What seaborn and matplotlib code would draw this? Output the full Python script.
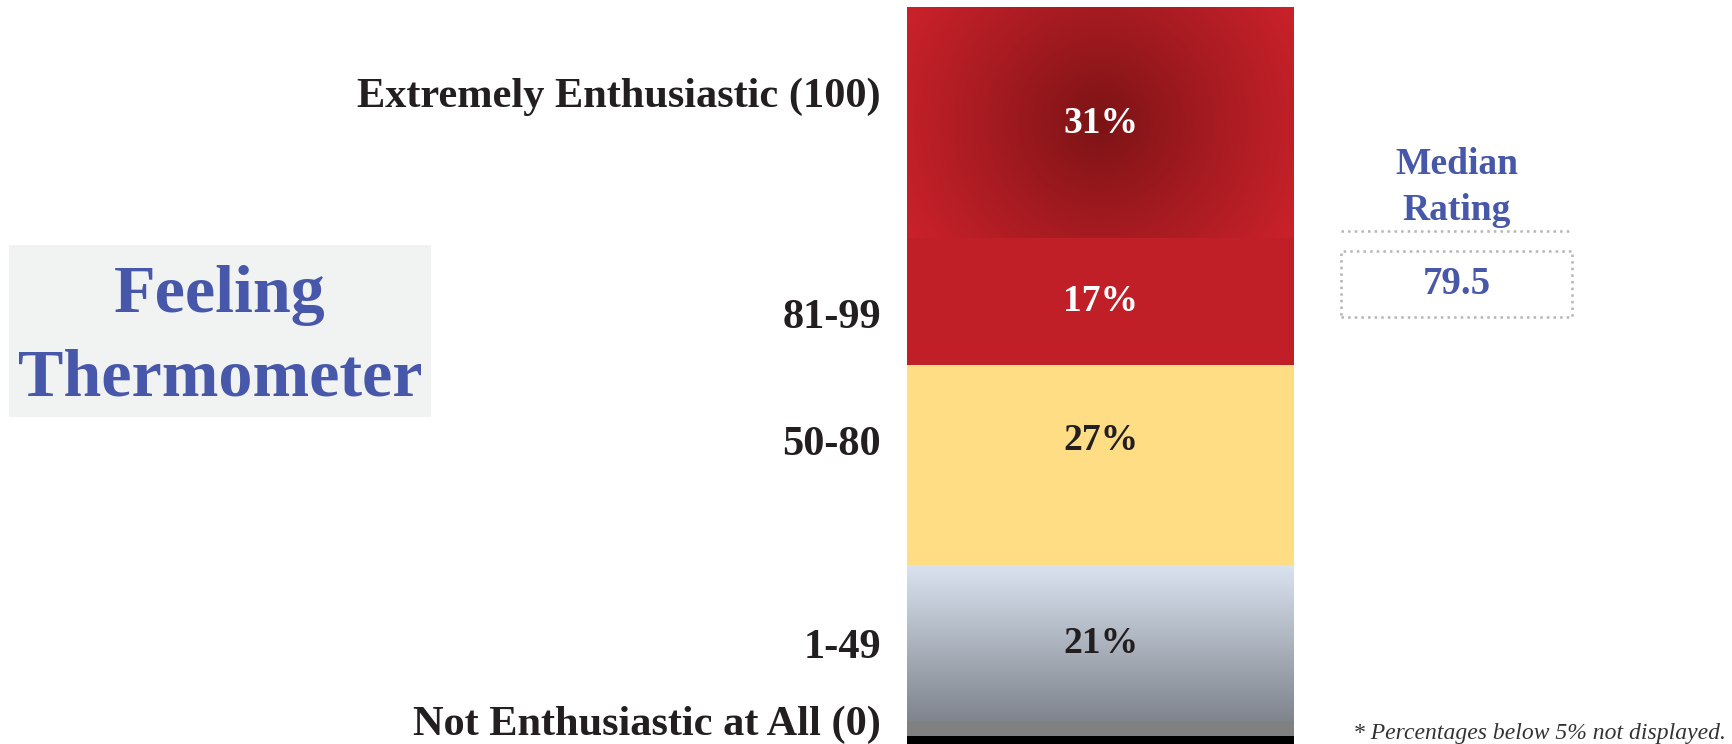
import numpy as np
import pandas as pd
import matplotlib.pyplot as plt
from matplotlib.colors import to_rgb
from matplotlib.patches import Rectangle
from matplotlib.lines import Line2D
import seaborn as sns

# data (bottom of the bar first)
segments = ['Rest', 'Not Enthusiastic at All (0)', '1-49', '50-80', '81-99', 'Extremely Enthusiastic (100)']
pct = [2, 2, 21, 27, 17, 31]
seg_colors = ['#000000', '#808080', '#d9e3ef', '#fedd84', '#c01f27', '#c8212a']
tick_labels = ['Not Enthusiastic at All (0)', '1-49', '50-80', '81-99', 'Extremely Enthusiastic (100)']
median_rating = 79.5

# layout (value units of the bar axis)
tick_y = [4.15, 14.4, 41.8, 58.9, 88.7]
pct_nudge = [0, 0, 0, 3.3, 0, 0]

sns.set_style('white')
plt.rcParams['font.family'] = ['Liberation Serif', 'DejaVu Serif']

df = pd.DataFrame({'segment': segments, 'pct': pct, 'color': seg_colors})
df['top'] = df['pct'].cumsum()
df['bottom'] = df['top'] - df['pct']

W, H = 1733, 744
fig = plt.figure(figsize=(W / 100, H / 100), dpi=100)
ax = fig.add_axes([907 / W, 0, (1294 - 907) / W, 1])

# stacked bar: draw cumulative totals, tallest first
for i in range(len(df) - 1, -1, -1):
    sns.barplot(x=['bar'], y=[df['top'][i]], color=df['color'][i], saturation=1,
                width=0.8, linewidth=0, ax=ax)

# gradients
px_per = (736 - 8) / (df['top'].iloc[-1] - df['pct'].iloc[0])
top = df.iloc[-1]
ny, nx = 240, 390
yy, xx = np.mgrid[0:1:ny * 1j, 0:1:nx * 1j]
d = np.hypot((xx - 0.5) * 387, (yy - 0.5) * top['pct'] * px_per)
t = np.clip(d / 215, 0, 1) ** 0.9
c0, c1 = np.array(to_rgb('#7a1315')), np.array(to_rgb('#c8212a'))
ax.imshow(c0 + (c1 - c0) * t[..., None], extent=(-0.4, 0.4, top['bottom'], top['top']),
          aspect='auto', zorder=3, interpolation='bilinear')

low = df.iloc[2]
tv = np.linspace(0, 1, 200)[:, None, None] * np.ones((1, 2, 1))
g0, g1 = np.array(to_rgb('#d9e3ef')), np.array(to_rgb('#7f848d'))
ax.imshow(g0 + (g1 - g0) * tv, extent=(-0.4, 0.4, low['bottom'], low['top']),
          aspect='auto', zorder=3, interpolation='bilinear')

ax.set_xlim(-0.4, 0.4)
ax.set_ylim(df['pct'].iloc[0] - (744 - 736) / px_per, df['top'].iloc[-1] + 8 / px_per)

# percentage labels (below 5% not shown)
for i, row in df.iterrows():
    if row['pct'] < 5:
        continue
    txt_color = 'white' if i >= 4 else '#231f20'
    ax.text(0, (row['top'] + row['bottom']) / 2 + pct_nudge[i], f"{row['pct']}%",
            ha='center', va='center', fontsize=27, fontweight='bold', color=txt_color, zorder=5)

ax.set_yticks(tick_y, tick_labels)
ax.tick_params(axis='y', length=0, pad=18.7, labelsize=30.5, labelcolor='#231f20')
for lab in ax.get_yticklabels():
    lab.set_fontweight('bold')
ax.set_xticks([])
ax.set_xlabel('')
ax.set_ylabel('')
sns.despine(ax=ax, left=True, bottom=True)

# title box on the left
blue = '#4757a9'
fig.add_artist(Rectangle((9 / W, 1 - 417 / H), (431 - 9) / W, (417 - 245) / H,
                         transform=fig.transFigure, facecolor='#f1f2f2', edgecolor='none'))
fig.text(220 / W, 1 - 295 / H, 'Feeling', ha='center', va='center', fontsize=49,
         fontweight='bold', color=blue)
fig.text(220 / W, 1 - 379 / H, 'Thermometer', ha='center', va='center', fontsize=49,
         fontweight='bold', color=blue)

# median rating
fig.text(1457 / W, 1 - 164 / H, 'Median', ha='center', va='center', fontsize=27,
         fontweight='bold', color=blue)
fig.text(1457 / W, 1 - 210 / H, 'Rating', ha='center', va='center', fontsize=27,
         fontweight='bold', color=blue)
fig.add_artist(Line2D([1341 / W, 1571 / W], [1 - 231 / H, 1 - 231 / H], transform=fig.transFigure,
                      color='#b5b5b5', linestyle=':', linewidth=1.8))
fig.add_artist(Rectangle((1341 / W, 1 - 317 / H), (1572 - 1341) / W, (317 - 251) / H,
                         transform=fig.transFigure, facecolor='none', edgecolor='#b5b5b5',
                         linestyle=':', linewidth=1.8))
fig.text(1457 / W, 1 - 285 / H, f'{median_rating}', ha='center', va='center', fontsize=28,
         fontweight='bold', color=blue)

fig.text(1726 / W, 1 - 733 / H, '* Percentages below 5% not displayed.', ha='right', va='center',
         fontsize=17, style='italic', color='#333333')

fig.savefig('out.png', dpi=100)
